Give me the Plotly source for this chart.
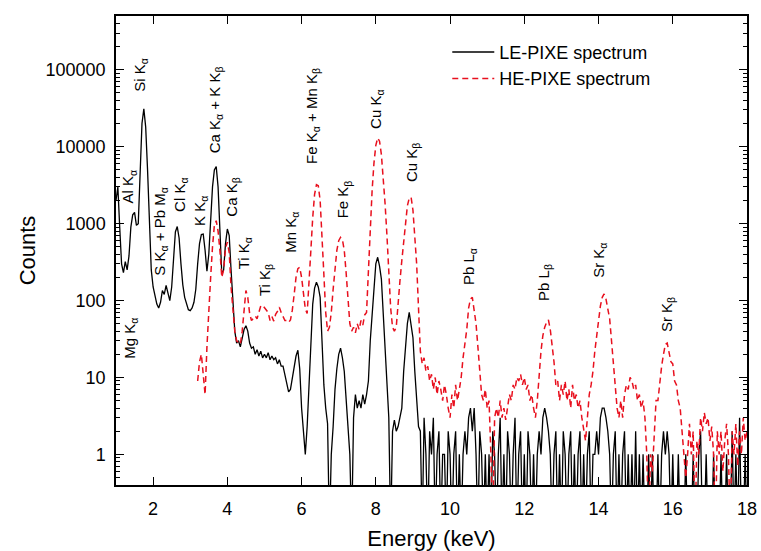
import math
import plotly.graph_objects as go

# ---------------- data ----------------
energy_step = 0.05
le_start = 1.00   # keV, first channel of the LE-PIXE spectrum
he_start = 3.20   # keV, first channel of the HE-PIXE spectrum

# LE-PIXE counts, 0.05 keV channels, rows of 0.5 keV
le_counts = [
    2000, 3000, 900, 300, 230, 320, 250, 380, 900, 1300,          # 1.00
    1400, 950, 1000, 5000, 20000, 31000, 18000, 5000, 1200, 250,  # 1.50
    150, 110, 90, 80, 95, 135, 120, 157, 130, 100,                # 2.00
    150, 400, 780, 915, 650, 300, 160, 110, 90, 76,               # 2.50
    74, 80, 95, 140, 300, 550, 720, 730, 450, 240,                # 3.00
    400, 1200, 3000, 5000, 5500, 3000, 900, 220, 250, 550,        # 3.50
    850, 700, 250, 90, 40, 28, 30, 25, 33, 42,                    # 4.00
    47, 40, 28, 24, 25, 20, 23, 19, 22, 18,                       # 4.50
    20, 18, 21, 17, 19, 17, 18, 15, 17, 14,                       # 5.00
    14, 11, 8, 6.5, 7, 10, 13, 19, 22.6, 13,                      # 5.50
    4, 1.9, 1, 2.3, 8, 30, 90, 145, 173, 150,                     # 6.00
    110, 30, 8, 4, 2.5, 0, 1, 2.3, 7, 13,                         # 6.50
    20, 24, 18, 12, 5, 2.5, 1, 0, 3, 6,                           # 7.00
    4, 5, 4, 6, 4.5, 6, 9, 30, 70, 180,                           # 7.50
    300, 365, 280, 190, 60, 19, 6, 3, 0, 2,                       # 8.00
    2.8, 2, 2.3, 3, 4, 12, 25, 50, 70, 50,                        # 8.50
    33, 12, 5, 2.3, 2, 0, 3, 1, 0, 2,                             # 9.00
    1, 3, 0, 1, 2, 0, 1, 1, 0, 2,                                 # 9.50
    1, 0, 1, 2, 0, 1, 0, 1, 2, 1,                                 # 10.00
    3, 4, 2, 4, 1, 0, 2, 1, 0, 1,                                 # 10.50
    0, 1, 0, 2, 1, 0, 1, 3, 0, 1,                                 # 11.00
    0, 2, 1, 0, 1, 3, 0, 1, 2, 0,                                 # 11.50
    1, 0, 2, 1, 0, 1, 0, 1, 2, 1,                                 # 12.00
    3, 4, 3, 2, 1, 0, 1, 2, 0, 1,                                 # 12.50
    0, 2, 1, 0, 1, 2, 0, 1, 0, 1,                                 # 13.00
    2, 0, 1, 0, 1, 2, 0, 1, 1, 2,                                 # 13.50
    1, 3, 4, 4, 3, 2, 1, 0, 1, 2,                                 # 14.00
    0, 1, 0, 1, 2, 0, 1, 0, 1, 0,                                 # 14.50
    2, 0, 1, 0, 1, 0, 0, 1, 0, 1,                                 # 15.00
    0, 0, 1, 0, 1, 2, 1, 2, 1, 0,                                 # 15.50
    1, 0, 0, 1, 0, 0, 0, 1, 0, 0,                                 # 16.00
    0, 1, 0, 0, 1, 2, 0, 0, 1, 0,                                 # 16.50
    0, 0, 1, 0, 0, 0, 1, 0, 0, 1,                                 # 17.00
    0, 0, 2, 0, 1, 0, 3, 0, 0, 1,                                 # 17.50
    0,                                                            # 18.00
]

# HE-PIXE counts, 0.05 keV channels
he_counts = [
    9, 16, 20, 12, 6, 25,                                         # 3.20
    80, 200, 500, 950, 1090, 800, 445, 200, 250, 480,             # 3.50
    575, 420, 150, 70, 40, 30, 28, 27, 40, 75,                    # 4.00
    135, 110, 68, 55, 60, 63, 58, 72, 85, 87,                     # 4.50
    80, 75, 70, 55, 62, 54, 66, 72, 82, 70,                       # 5.00
    62, 55, 55, 52, 56, 75, 120, 200, 260, 270,                   # 5.50
    200, 120, 78, 68, 150, 450, 1200, 2400, 3200, 3100,           # 6.00
    2000, 800, 220, 70, 40, 45, 70, 140, 280, 450,                # 6.50
    600, 665, 620, 450, 230, 100, 50, 40, 45, 38,                 # 7.00
    50, 42, 55, 48, 65, 70, 240, 960, 2700, 6150,                 # 7.50
    10400, 13000, 11800, 7900, 4000, 1800, 700, 200, 80, 45,      # 8.00
    40, 45, 80, 180, 330, 600, 1100, 1700, 2150, 2200,            # 8.50
    1500, 700, 300, 80, 22, 15, 18, 12, 14, 9,                    # 9.00
    11, 7, 10, 6, 9, 7, 5, 8, 6, 4,                               # 9.50
    3, 6, 4, 8, 5, 7, 10, 18, 28, 42,                             # 10.00
    80, 105, 110, 75, 50, 25, 12, 6, 5, 7,                        # 10.50
    4, 5, 1, 0, 3, 4, 3, 5, 3, 4,                                 # 11.00
    2.8, 4, 6, 5, 8, 7, 10, 9, 11, 8,                             # 11.50
    10, 7, 8, 5, 6, 4, 3, 5, 12, 22,                              # 12.00
    35, 45, 52, 56, 42, 28, 16, 8, 9, 5,                          # 12.50
    8, 6, 9, 5, 7, 4, 8, 5, 6, 4,                                 # 13.00
    5, 3, 2, 1.5, 3, 6, 8, 12, 22, 35,                            # 13.50
    55, 85, 110, 122, 105, 80, 58, 30, 15, 8,                     # 14.00
    4, 3, 5, 3, 6, 8, 7, 10, 9, 7,                                # 14.50
    8, 5, 6, 4, 5, 3, 1, 0, 1, 0.6,                               # 15.00
    2, 5, 5, 9, 14, 20, 27, 28, 22, 16,                           # 15.50
    15, 9, 8, 5, 4, 2, 1, 0.5, 1, 2.5,                            # 16.00
    1, 2, 0, 1.5, 1, 3, 2, 3.5, 2.5, 3,                           # 16.50
    1.5, 2.3, 1, 0, 2, 1, 2, 0.6, 1.5, 2.5,                       # 17.00
    1, 0, 2, 1, 2.5, 0.7, 2, 1, 3, 1.5,                           # 17.50
    2,                                                            # 18.00
]

# peak labels: text, energy (keV), counts at the start (bottom) of the label
peak_labels = [
    "Mg K<sub>α</sub>", "Al K<sub>α</sub>", "Si K<sub>α</sub>",
    "S K<sub>α</sub> + Pb M<sub>α</sub>", "Cl K<sub>α</sub>", "K K<sub>α</sub>",
    "Ca K<sub>α</sub> + K K<sub>β</sub>", "Ca K<sub>β</sub>", "Ti K<sub>α</sub>",
    "Ti K<sub>β</sub>", "Mn K<sub>α</sub>", "Fe K<sub>α</sub> + Mn K<sub>β</sub>",
    "Fe K<sub>β</sub>", "Cu K<sub>α</sub>", "Cu K<sub>β</sub>",
    "Pb L<sub>α</sub>", "Pb L<sub>β</sub>", "Sr K<sub>α</sub>", "Sr K<sub>β</sub>",
]
peak_label_energy = [1.40, 1.35, 1.67, 2.19, 2.72, 3.26, 3.67, 4.15, 4.45,
                     5.01, 5.74, 6.31, 7.14, 8.00, 8.97, 10.54, 12.56, 14.04, 15.84]
peak_label_counts = [16.7, 1714, 48500, 199, 1330, 877, 7650, 1175, 240,
                     107, 400, 5640, 1100, 16200, 3300, 148, 92, 183, 37]

x_tick_vals = [2, 4, 6, 8, 10, 12, 14, 16, 18]
y_tick_vals = [1, 10, 100, 1000, 10000, 100000]
y_tick_text = ["1", "10", "100", "1000", "10000", "100000"]
x_range = [1, 18]
y_range = [0.4, 500000]

# ---------------- figure ----------------
le_energy = [round(le_start + i * energy_step, 2) for i in range(len(le_counts))]
he_energy = [round(he_start + i * energy_step, 2) for i in range(len(he_counts))]

floor = 0.1  # zero-count channels are drawn below the visible range
le_plot = [c if c > 0 else floor for c in le_counts]
he_plot = [c if c > 0 else floor for c in he_counts]

FONT = "Arial, Liberation Sans, sans-serif"

fig = go.Figure()
fig.add_trace(go.Scatter(x=le_energy, y=le_plot, mode="lines",
                         name="LE-PIXE spectrum",
                         line=dict(color="black", width=1.3)))
fig.add_trace(go.Scatter(x=he_energy, y=he_plot, mode="lines",
                         name="HE-PIXE spectrum",
                         line=dict(color="#e8101e", width=1.5, dash="6px,4px")))

for txt, e, c in zip(peak_labels, peak_label_energy, peak_label_counts):
    fig.add_annotation(x=e, y=math.log10(c), text=txt, textangle=-90,
                       showarrow=False, xanchor="center", yanchor="bottom",
                       font=dict(family=FONT, size=15, color="black"))

minor_y = [m * 10 ** d for d in range(-1, 6) for m in range(2, 10)
           if y_range[0] <= m * 10 ** d <= y_range[1]]

fig.update_xaxes(range=x_range, tickvals=x_tick_vals, automargin=False,
                 ticks="inside", ticklen=8, tickwidth=1.3, tickcolor="black",
                 showline=True, linewidth=1.5, linecolor="black", mirror="allticks",
                 showgrid=False, zeroline=False, ticklabeloverflow="allow",
                 ticklabelstandoff=7,
                 tickfont=dict(family=FONT, size=18, color="black"),
                 title=dict(text="Energy (keV)", standoff=14,
                            font=dict(family=FONT, size=22, color="black")))
fig.update_yaxes(type="log", range=[math.log10(y_range[0]), math.log10(y_range[1])],
                 tickvals=y_tick_vals, ticktext=y_tick_text, automargin=False,
                 ticks="inside", ticklen=8, tickwidth=1.3, tickcolor="black",
                 minor=dict(tickvals=minor_y, ticks="inside", ticklen=4,
                            tickwidth=1, tickcolor="black", showgrid=False),
                 showline=True, linewidth=1.5, linecolor="black", mirror="allticks",
                 showgrid=False, zeroline=False, ticklabelstandoff=5,
                 tickfont=dict(family=FONT, size=18, color="black"),
                 title=dict(text="Counts", standoff=4,
                            font=dict(family=FONT, size=22, color="black")))

fig.update_layout(
    width=761, height=551,
    margin=dict(l=116, r=14, t=16, b=66, autoexpand=False),
    paper_bgcolor="white", plot_bgcolor="white",
    showlegend=True,
    legend=dict(x=0.525, y=0.962, xanchor="left", yanchor="top",
                bgcolor="rgba(0,0,0,0)", borderwidth=0,
                font=dict(family=FONT, size=18, color="black"),
                itemwidth=42, tracegroupgap=0),
)

fig.write_html("out.html",
               config={"displayModeBar": False},
               post_script="document.body.style.margin='0';"
                           "document.body.style.overflow='hidden';")
